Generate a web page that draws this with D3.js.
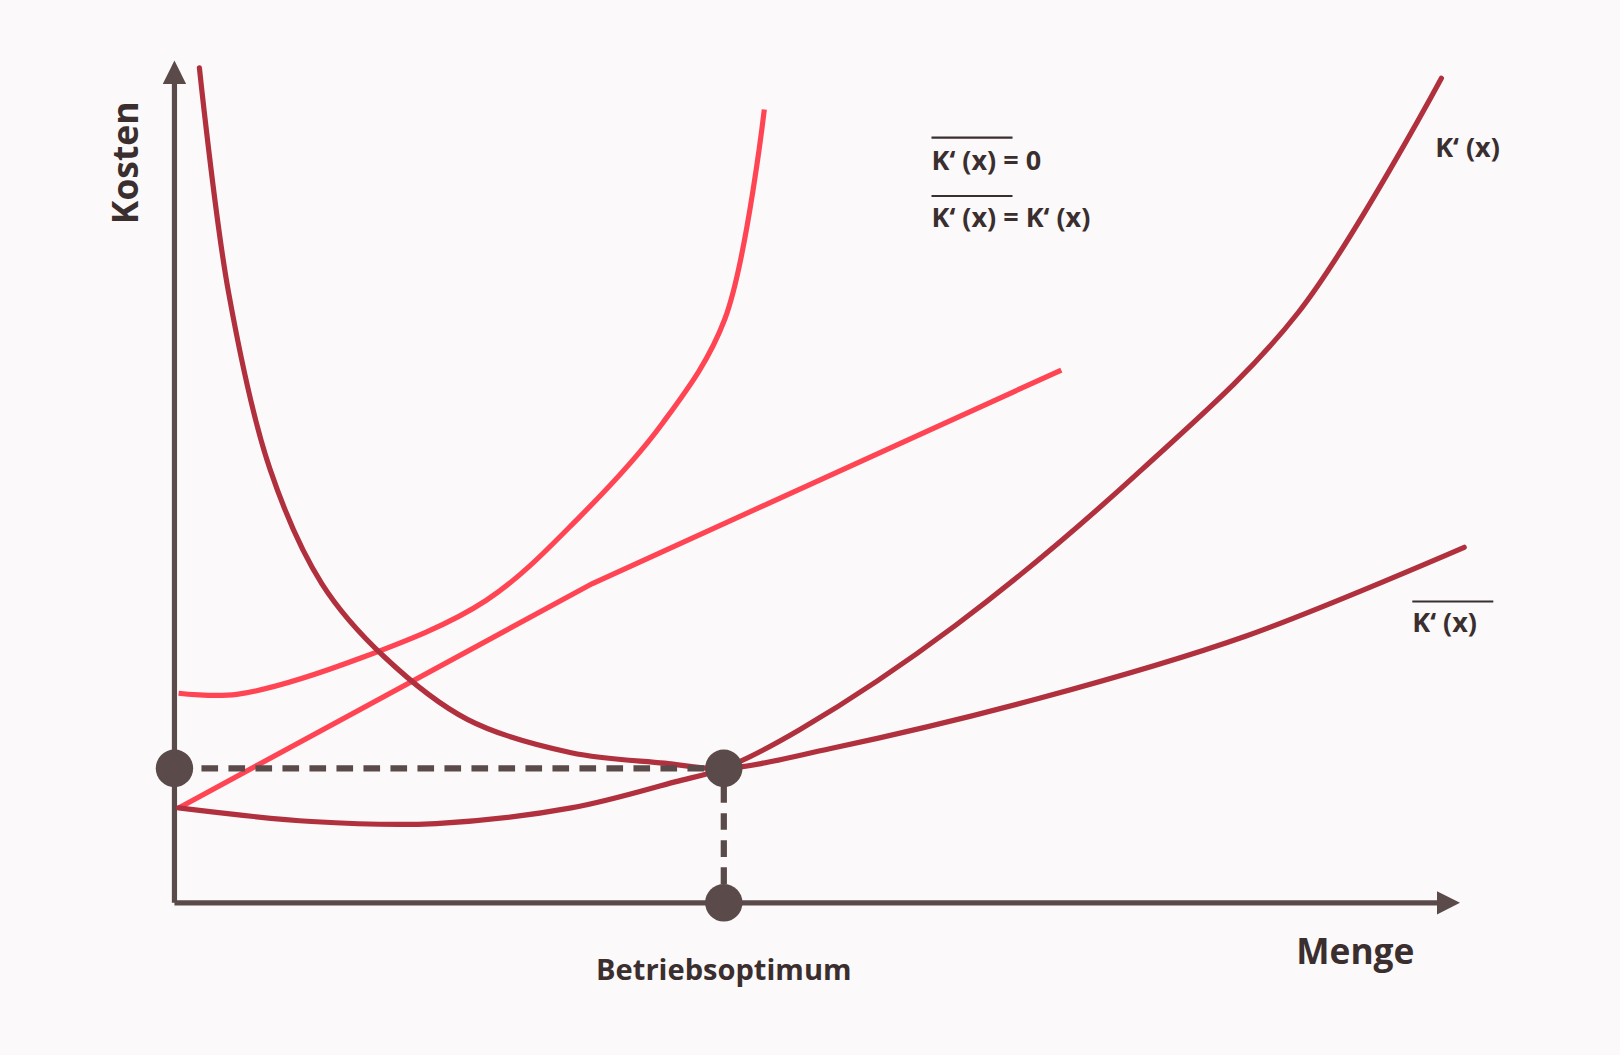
<!DOCTYPE html>
<html><head><meta charset="utf-8">
<script src="https://cdn.jsdelivr.net/npm/d3@7"></script>
<style>body{margin:0;background:#fbf9f9}</style>
</head><body>
<svg width="1620" height="1055" viewBox="0 0 1560 1012" preserveAspectRatio="none"></svg>
<script>
// données (x: quantité, y: coût)
const grenzLinie = [[4,201],[60,200],[180,235],[300,290],[390,370],[470,460],[530,560],[568,761]];
const knickLinie = [[4,91],[402,306],[854,511]];
const stueckKosten = [[24,801],[52,586],[92,416],[142,306],[202,236],[282,176],[382,144],[472,134],[529,129],[632,148],[832,196],[1032,256],[1242,341]];
const grenzKosten = [[4,91],[132,78],[252,76],[382,91],[482,116],[529,129],[602,166],[752,266],[932,416],[1082,566],[1220,791]];
const optimum = [529,129];

const svg = d3.select("svg");
const x = d3.scaleLinear().domain([0,1230]).range([168,1398]);
const y = d3.scaleLinear().domain([0,800]).range([866,66]);
const axe = "#5a4a4a", rougeFonce = "#b0303e", rouge = "#ff4553";
const courbe = d3.line().x(d=>x(d[0])).y(d=>y(d[1])).curve(d3.curveCatmullRom.alpha(0.5));

svg.append("defs").append("marker").attr("id","fl").attr("viewBox","0 0 10 10")
  .attr("refX",2).attr("refY",5).attr("markerWidth",4.5).attr("markerHeight",4.5).attr("orient","auto")
  .append("path").attr("d","M0,0L10,5L0,10z").attr("fill",axe);

// axes
svg.append("path").attr("d",`M${x(0)},${y(0)}V${y(790)}`).attr("stroke",axe).attr("stroke-width",5).attr("fill","none").attr("marker-end","url(#fl)");
svg.append("path").attr("d",`M${x(0)},${y(0)}H${x(1220)}`).attr("stroke",axe).attr("stroke-width",5).attr("fill","none").attr("marker-end","url(#fl)");

// courbes
svg.append("path").attr("d",courbe(grenzLinie)).attr("stroke",rouge).attr("stroke-width",5).attr("fill","none");
svg.append("path").attr("d",d3.line().x(d=>x(d[0])).y(d=>y(d[1]))(knickLinie)).attr("stroke",rouge).attr("stroke-width",5).attr("fill","none");
svg.append("path").attr("d",courbe(stueckKosten)).attr("stroke",rougeFonce).attr("stroke-width",5).attr("fill","none").attr("stroke-linecap","round");
svg.append("path").attr("d",courbe(grenzKosten)).attr("stroke",rougeFonce).attr("stroke-width",5).attr("fill","none").attr("stroke-linecap","round");

// pointillés
svg.append("path").attr("d",`M${x(0)},${y(optimum[1])}H${x(optimum[0])}V${y(0)}`)
  .attr("stroke",axe).attr("stroke-width",6).attr("stroke-dasharray","16,10").attr("fill","none");
[[0,optimum[1]],optimum,[optimum[0],0]].forEach(p=>{
  svg.append("circle").attr("cx",x(p[0])).attr("cy",y(p[1])).attr("r",18).attr("fill",axe);
});

// textes
const txt = (t,px,py,size,over,anchor)=>svg.append("text").attr("x",px).attr("y",py)
  .attr("font-family","Open Sans, sans-serif").attr("font-weight",700).attr("font-size",size)
  .attr("fill","#3a2e2e").attr("text-anchor",anchor||"start").text(t);
const barre = (x1,x2,py)=>svg.append("line").attr("x1",x1).attr("x2",x2).attr("y1",py).attr("y2",py).attr("stroke","#3a2e2e").attr("stroke-width",2);
txt("K‘ (x) = 0",897,163,26); barre(897,975,132);
txt("K‘ (x) = K‘ (x)",897,218,26); barre(897,975,188);
txt("K‘ (x)",1382,151,26);
txt("K‘ (x)",1360,606,26); barre(1360,1438,577);
txt("Betriebsoptimum",697,940,28,false,"middle");
txt("Menge",1362,925,34,false,"end");
txt("Kosten",0,0,34).attr("transform","translate(133,215) rotate(-90)");
</script>
</body></html>
